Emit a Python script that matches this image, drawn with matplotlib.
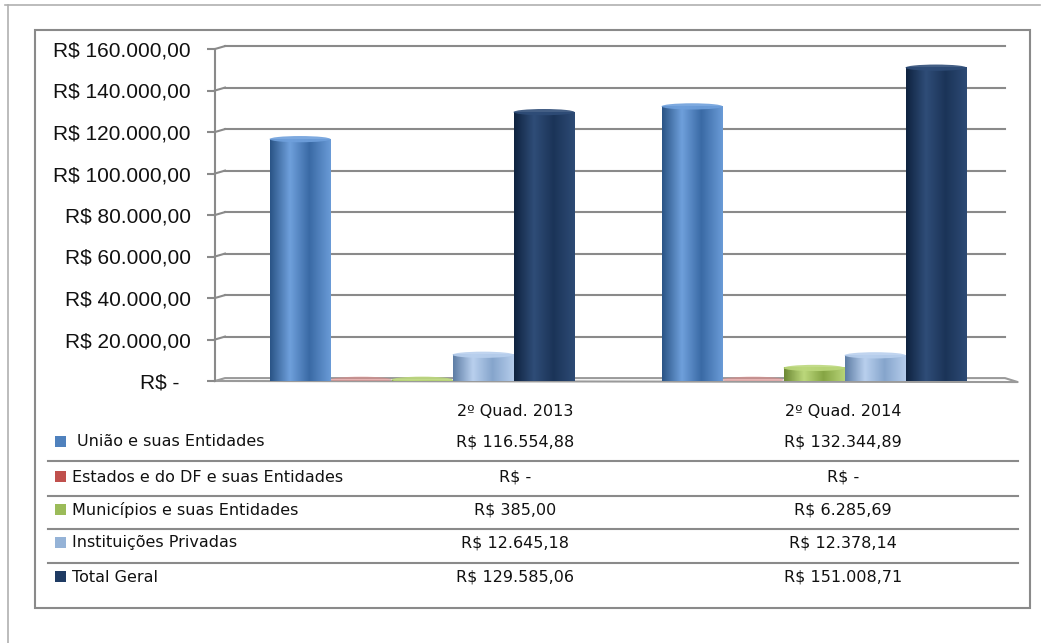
import matplotlib.pyplot as plt
import numpy as np
from matplotlib.colors import LinearSegmentedColormap
from matplotlib.patches import Ellipse, Rectangle
from matplotlib.lines import Line2D

# Data
periods = ['2º Quad. 2013', '2º Quad. 2014']
series = ['União e suas Entidades', 'Estados e do DF e suas Entidades',
          'Municípios e suas Entidades', 'Instituições Privadas', 'Total Geral']
uniao = [116554.88, 132344.89]
estados = [0.0, 0.0]
municipios = [385.00, 6285.69]
privadas = [12645.18, 12378.14]
total = [129585.06, 151008.71]
values = [uniao, estados, municipios, privadas, total]

yticks = np.arange(0, 160001, 20000)

# (dark edge, highlight, right edge) per series
shades = [('#2b5587', '#6fa0dc', '#3a6aa5'),
          ('#9a3b39', '#e08a88', '#b65350'),
          ('#6e8a35', '#bcd87c', '#86a544'),
          ('#5f7ea6', '#b9d0ee', '#86a5cc'),
          ('#0f2340', '#2f4d78', '#1b3458')]
legend_colors = ['#4f81bd', '#c0504d', '#9bbb59', '#95b3d7', '#1f3b63']


def brl(v):
    if v == 0:
        return 'R$ -'
    s = f'{v:,.2f}'.replace(',', '#').replace('.', ',').replace('#', '.')
    return 'R$ ' + s


W, H = 1042, 643
fig = plt.figure(figsize=(W / 100, H / 100), dpi=100)
plt.rcParams['font.family'] = ['Liberation Sans', 'DejaVu Sans']

def fx(px):
    return px / W

def fy(py):
    return 1 - py / H

# frames
fig.add_artist(Line2D([fx(5), fx(1040)], [fy(5), fy(5)], color='#b0b0b0', lw=1.2))
fig.add_artist(Line2D([fx(8), fx(8)], [fy(5), fy(643)], color='#b0b0b0', lw=1.2))
fig.add_artist(Rectangle((fx(35), fy(608)), fx(1030) - fx(35), fy(30) - fy(608),
                         fill=False, edgecolor='#8a8a8a', lw=1.5))

# main axes: y=0 at 381px, 160000 at 49px, left spine at 215px
ax = fig.add_axes([fx(215), fy(381), fx(1005) - fx(215), fy(49) - fy(381)])
px_per_cat = 392.0
left_cat = (215 - 422) / px_per_cat
right_cat = (1005 - 422) / px_per_cat
ax.set_xlim(left_cat, right_cat)
ax.set_ylim(0, 160000)
ax.set_facecolor('none')
for s in ['top', 'right', 'bottom']:
    ax.spines[s].set_visible(False)
ax.spines['left'].set_color('#8a8a8a')
ax.spines['left'].set_linewidth(1.5)
ax.set_xticks([])
ax.set_yticks(yticks)
ax.set_yticklabels([brl(v) + ('  ' if v == 0 else '') for v in yticks],
                   fontsize=15, color='#111111')
ax.tick_params(axis='y', length=6, color='#8a8a8a', width=1.5, pad=11.5)

# back-wall gridlines with small perspective connector
dx = 10 / 790
dy = 1400
for v in yticks[1:]:
    ax.plot([dx, 1], [v + dy, v + dy], transform=ax.get_yaxis_transform(),
            color='#8a8a8a', lw=1.5, zorder=1, clip_on=False)
    ax.plot([0, dx], [v, v + dy], transform=ax.get_yaxis_transform(),
            color='#8a8a8a', lw=1.5, zorder=1, clip_on=False)
# floor
ax.plot([0, dx, 1, 1.016, 0], [0, dy, dy, -500, 0], transform=ax.get_yaxis_transform(),
        color='#9a9a9a', lw=1.5, zorder=1, clip_on=False)

bw = 61 / px_per_cat
x = np.arange(len(periods))
top_h = 3000
for i, (vals, sh) in enumerate(zip(values, shades)):
    cmap = LinearSegmentedColormap.from_list('c%d' % i, [sh[0], sh[1], sh[2]])
    grad = np.linspace(0, 1, 64)
    grad = np.where(grad < 0.65, grad / 0.65 * 0.5, 0.5 + (grad - 0.65) / 0.35 * 0.5)
    grad = np.interp(grad, [0, 0.5, 1], [0, 1, 0.55])[None, :]
    for j, v in enumerate(vals):
        x0 = x[j] + (i - 2.5) * bw
        if v > 0:
            ax.imshow(grad, extent=[x0, x0 + bw, 0, v], aspect='auto', cmap=cmap,
                      vmin=0, vmax=1, zorder=3, interpolation='bicubic')
        ax.add_patch(Ellipse((x0 + bw / 2, max(v, 600)), bw, top_h,
                             facecolor=sh[1], edgecolor='none',
                             alpha=0.9 if v > 0 else 0.6, zorder=4))
ax.set_xlim(left_cat, right_cat)
ax.set_ylim(0, 160000)

# data table
tfont = ['DejaVu Sans']
col_x = [515, 843]
fs = 11.5
for j, p in enumerate(periods):
    fig.text(fx(col_x[j]), fy(411), p, ha='center', va='center', fontsize=fs,
             color='#111111', family=tfont)
row_y = [442, 477, 510, 543, 577]
text_x = [77, 72, 72, 72, 72]
for i, name in enumerate(series):
    fig.add_artist(Rectangle((fx(55), fy(row_y[i] + 5)), fx(11), 11 / H,
                             facecolor=legend_colors[i], edgecolor='none'))
    fig.text(fx(text_x[i]), fy(row_y[i]), name, ha='left', va='center',
             fontsize=fs, color='#111111', family=tfont)
    for j in range(len(periods)):
        fig.text(fx(col_x[j]), fy(row_y[i]), brl(values[i][j]), ha='center',
                 va='center', fontsize=fs, color='#111111', family=tfont)
for ly in [461, 496, 529, 563]:
    fig.add_artist(Line2D([fx(48), fx(1018)], [fy(ly), fy(ly)], color='#8a8a8a', lw=1.5))

fig.savefig('out.png', dpi=100, facecolor='white')
